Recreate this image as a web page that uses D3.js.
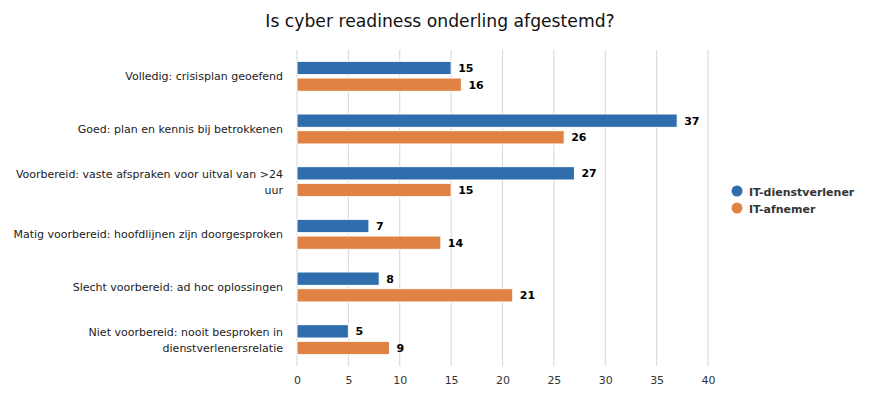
<!DOCTYPE html>
<html>
<head>
<meta charset="utf-8">
<script src="https://cdn.jsdelivr.net/npm/d3@7"></script>
<style>
  body { margin: 0; background: #fff; }
  text { font-family: "DejaVu Sans", Verdana, sans-serif; }
</style>
</head>
<body>
<div id="chart"></div>
<script>
const categories = [
  'Volledig: crisisplan geoefend',
  'Goed: plan en kennis bij betrokkenen',
  'Voorbereid: vaste afspraken voor uitval van >24 uur',
  'Matig voorbereid: hoofdlijnen zijn doorgesproken',
  'Slecht voorbereid: ad hoc oplossingen',
  'Niet voorbereid: nooit besproken in dienstverlenersrelatie'
];
const seriesNames = ['IT-dienstverlener', 'IT-afnemer'];
const dienstverlener = [15, 37, 27, 7, 8, 5];
const afnemer = [16, 26, 15, 14, 21, 9];
const xTicks = [0, 5, 10, 15, 20, 25, 30, 35, 40];
const colors = ['#2f6dac', '#e08244'];

const W = 874, H = 398;
const margin = { top: 50, right: 166, bottom: 32, left: 297 };
const width = W - margin.left - margin.right;
const height = H - margin.top - margin.bottom;

const svg = d3.select('#chart').append('svg')
  .attr('width', W).attr('height', H);

svg.append('text')
  .attr('x', 440).attr('y', 27)
  .attr('text-anchor', 'middle')
  .attr('font-size', 17.2)
  .attr('fill', '#111')
  .text('Is cyber readiness onderling afgestemd?');

const g = svg.append('g').attr('transform', `translate(${margin.left},${margin.top})`);

const x = d3.scaleLinear().domain([0, 40]).range([0, width]);
const y = d3.scaleBand().domain(categories).range([0, height]);
const sub = d3.scaleBand().domain(seriesNames).range([y.bandwidth() / 2 - 15, y.bandwidth() / 2 + 15]).paddingInner(0.2);

// gridlines
g.append('g')
  .selectAll('line')
  .data(xTicks)
  .join('line')
  .attr('x1', d => x(d)).attr('x2', d => x(d))
  .attr('y1', 0).attr('y2', height)
  .attr('stroke', '#d6d6d6').attr('stroke-width', 1);

// x axis
const xAxis = g.append('g')
  .attr('transform', `translate(0,${height})`)
  .call(d3.axisBottom(x).tickValues(xTicks).tickSize(0).tickPadding(10));
xAxis.select('.domain').remove();
xAxis.selectAll('text').attr('font-size', 11).attr('fill', '#333')
  .style('font-family', '"DejaVu Sans", sans-serif');

// category labels, wrapped
const labelG = g.append('g');
categories.forEach(c => {
  const t = labelG.append('text')
    .attr('x', -14)
    .attr('text-anchor', 'end')
    .attr('font-size', 11)
    .attr('fill', '#222');
  const words = c.split(' ');
  const lines = [];
  let line = '';
  const tmp = labelG.append('text').attr('font-size', 11);
  words.forEach(w => {
    const test = line ? line + ' ' + w : w;
    tmp.text(test);
    if (tmp.node().getComputedTextLength() > 276 && line) {
      lines.push(line);
      line = w;
    } else line = test;
  });
  lines.push(line);
  tmp.remove();
  const cy = y(c) + y.bandwidth() / 2;
  lines.forEach((l, i) => {
    t.append('tspan')
      .attr('x', -14)
      .attr('y', cy + 4 + (i - (lines.length - 1) / 2) * 16)
      .text(l);
  });
});

// bars
const series = [dienstverlener, afnemer];
series.forEach((vals, si) => {
  const sg = g.append('g');
  sg.selectAll('rect')
    .data(vals)
    .join('rect')
    .attr('x', 0)
    .attr('y', (d, i) => y(categories[i]) + sub(seriesNames[si]))
    .attr('width', d => x(d))
    .attr('height', sub.bandwidth())
    .attr('fill', colors[si])
    .attr('stroke', '#fff').attr('stroke-width', 1);
  sg.selectAll('text')
    .data(vals)
    .join('text')
    .attr('x', d => x(d) + 7)
    .attr('y', (d, i) => y(categories[i]) + sub(seriesNames[si]) + sub.bandwidth() / 2 + 4)
    .attr('font-size', 11)
    .attr('font-weight', 'bold')
    .attr('fill', '#000')
    .text(d => d);
});

// legend
const legend = svg.append('g').attr('transform', 'translate(737,191)');
seriesNames.forEach((s, i) => {
  const lg = legend.append('g').attr('transform', `translate(0,${i * 17})`);
  lg.append('circle').attr('r', 5.5).attr('fill', colors[i]);
  lg.append('text').attr('x', 12).attr('y', 4.5)
    .attr('font-size', 11).attr('font-weight', 'bold').attr('fill', '#333')
    .text(s);
});
</script>
</body>
</html>
